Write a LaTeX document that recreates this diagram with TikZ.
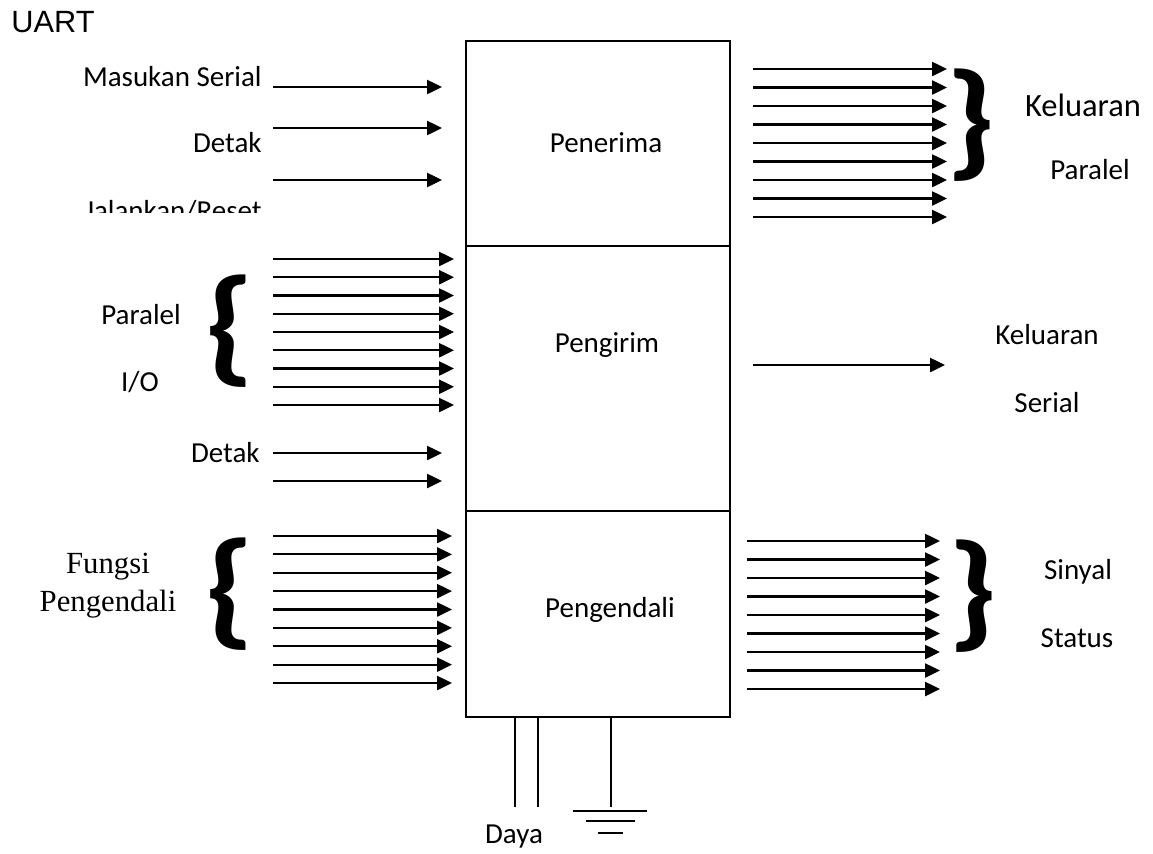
\documentclass[tikz,border=0pt]{standalone}
\usepackage{fontspec}
\setmainfont{Carlito}
\newfontfamily\arialfont{Liberation Sans}
\newfontfamily\timesfont{Liberation Serif}
\usetikzlibrary{arrows.meta, positioning}

\begin{document}
\begin{tikzpicture}[
    x=0.02cm, y=-0.02cm,
    block/.style={rectangle, draw, line width=1pt, minimum width=5.28cm, inner sep=0pt},
    lbl/.style={inner sep=0pt, font=\fontsize{16.5}{20}\selectfont},
    brace/.style={inner sep=0pt, font=\bfseries\fontsize{73}{73}\selectfont},
    arrow/.style={-{Triangle[length=8.5pt, width=8pt]}, line width=1.2pt},
    wire/.style={line width=1pt}
]
\useasboundingbox (0,0) rectangle (1153,853);

% Title
\node[font=\arialfont\fontsize{17.5}{20}\selectfont, inner sep=0pt] (title) at (53,22) {UART};

% UART blocks
\node[block, minimum height=4.1cm] (rx) at (598,143.5) {};
\node[block, minimum height=5.3cm] (tx) at (598,378.5) {};
\node[block, minimum height=4.12cm] (ctl) at (598,614) {};
\node[lbl] (rxname) at (606,143) {Penerima};
\node[lbl] (txname) at (607,345) {Pengirim};
\node[lbl] (ctlname) at (610,610) {Pengendali};

% Receiver inputs
\node[lbl, anchor=east] (serin) at (262,77) {Masukan Serial};
\node[lbl, anchor=east] (rxclk) at (262,143) {Detak};
\begin{scope}
  \clip (0,0) rectangle (466,212);
  \node[lbl, anchor=base east] (reset) at (262,220) {Jalankan/Reset};
\end{scope}
\foreach \y [count=\i] in {87,128,180} {
  \coordinate (rxa\i) at (273,\y);
  \coordinate (rxb\i) at (442,\y);
  \draw[arrow] (rxa\i) -- (rxb\i);
}

% Parallel outputs
\foreach \i in {0,...,8} {
  \coordinate (poa\i) at (753,{69+18.5*\i});
  \coordinate (pob\i) at (947,{69+18.5*\i});
  \draw[arrow] (poa\i) -- (pob\i);
}
\node[brace] (pobrace) at (971,125) {\scalebox{1.15}[1]{\}}};
\node[lbl, font=\fontsize{18.5}{22}\selectfont] (poname) at (1083,105) {Keluaran};
\node[lbl] (poname2) at (1090,170) {Paralel};

% Transmitter inputs
\foreach \i in {0,...,8} {
  \coordinate (pia\i) at (273,{259+18.25*\i});
  \coordinate (pib\i) at (454,{259+18.25*\i});
  \draw[arrow] (pia\i) -- (pib\i);
}
\node[brace] (pibrace) at (230,331) {\scalebox{1.15}[1]{\{}};
\node[lbl] (piname) at (141,315) {Paralel};
\node[lbl] (piname2) at (140,382) {I/O};
\node[lbl, anchor=east] (txclk) at (260,453) {Detak};
\foreach \y [count=\i] in {453,481} {
  \coordinate (txa\i) at (273,\y);
  \coordinate (txb\i) at (442,\y);
  \draw[arrow] (txa\i) -- (txb\i);
}

% Serial output
\coordinate (soa) at (753,365);
\coordinate (sob) at (945,365);
\draw[arrow] (soa) -- (sob);
\node[lbl] (soname) at (1047,335) {Keluaran};
\node[lbl] (soname2) at (1047,403) {Serial};

% Control inputs
\foreach \i in {0,...,8} {
  \coordinate (cia\i) at (273,{536+18.375*\i});
  \coordinate (cib\i) at (452,{536+18.375*\i});
  \draw[arrow] (cia\i) -- (cib\i);
}
\node[brace] (cibrace) at (230,594) {\scalebox{1.15}[1]{\{}};
\node[align=center, inner sep=0pt, font=\timesfont\fontsize{17.5}{21.5}\selectfont] (ciname) at (108,586) {Fungsi\\Pengendali};

% Status outputs
\foreach \i in {0,...,8} {
  \coordinate (soa\i) at (747,{541+18.5*\i});
  \coordinate (sob\i) at (940,{541+18.5*\i});
  \draw[arrow] (soa\i) -- (sob\i);
}
\node[brace] (sobrace) at (973,596) {\scalebox{1.15}[1]{\}}};
\node[lbl] (stname) at (1078,572) {Sinyal};
\node[lbl] (stname2) at (1077,638) {Status};

% Power and ground
\coordinate (vcc1) at (515,807);
\coordinate (vcc2) at (538,807);
\coordinate (gnd) at (611,807);
\draw[wire] (ctl.south -| vcc1) -- (vcc1);
\draw[wire] (ctl.south -| vcc2) -- (vcc2);
\draw[wire] (ctl.south -| gnd) -- (gnd);
\draw[wire] (573,811) -- (647,811);
\draw[wire] (586,821) -- (635,821);
\draw[wire] (598,833) -- (623,833);
\node[lbl] (power) at (514,837) {Daya};

\end{tikzpicture}
\end{document}
